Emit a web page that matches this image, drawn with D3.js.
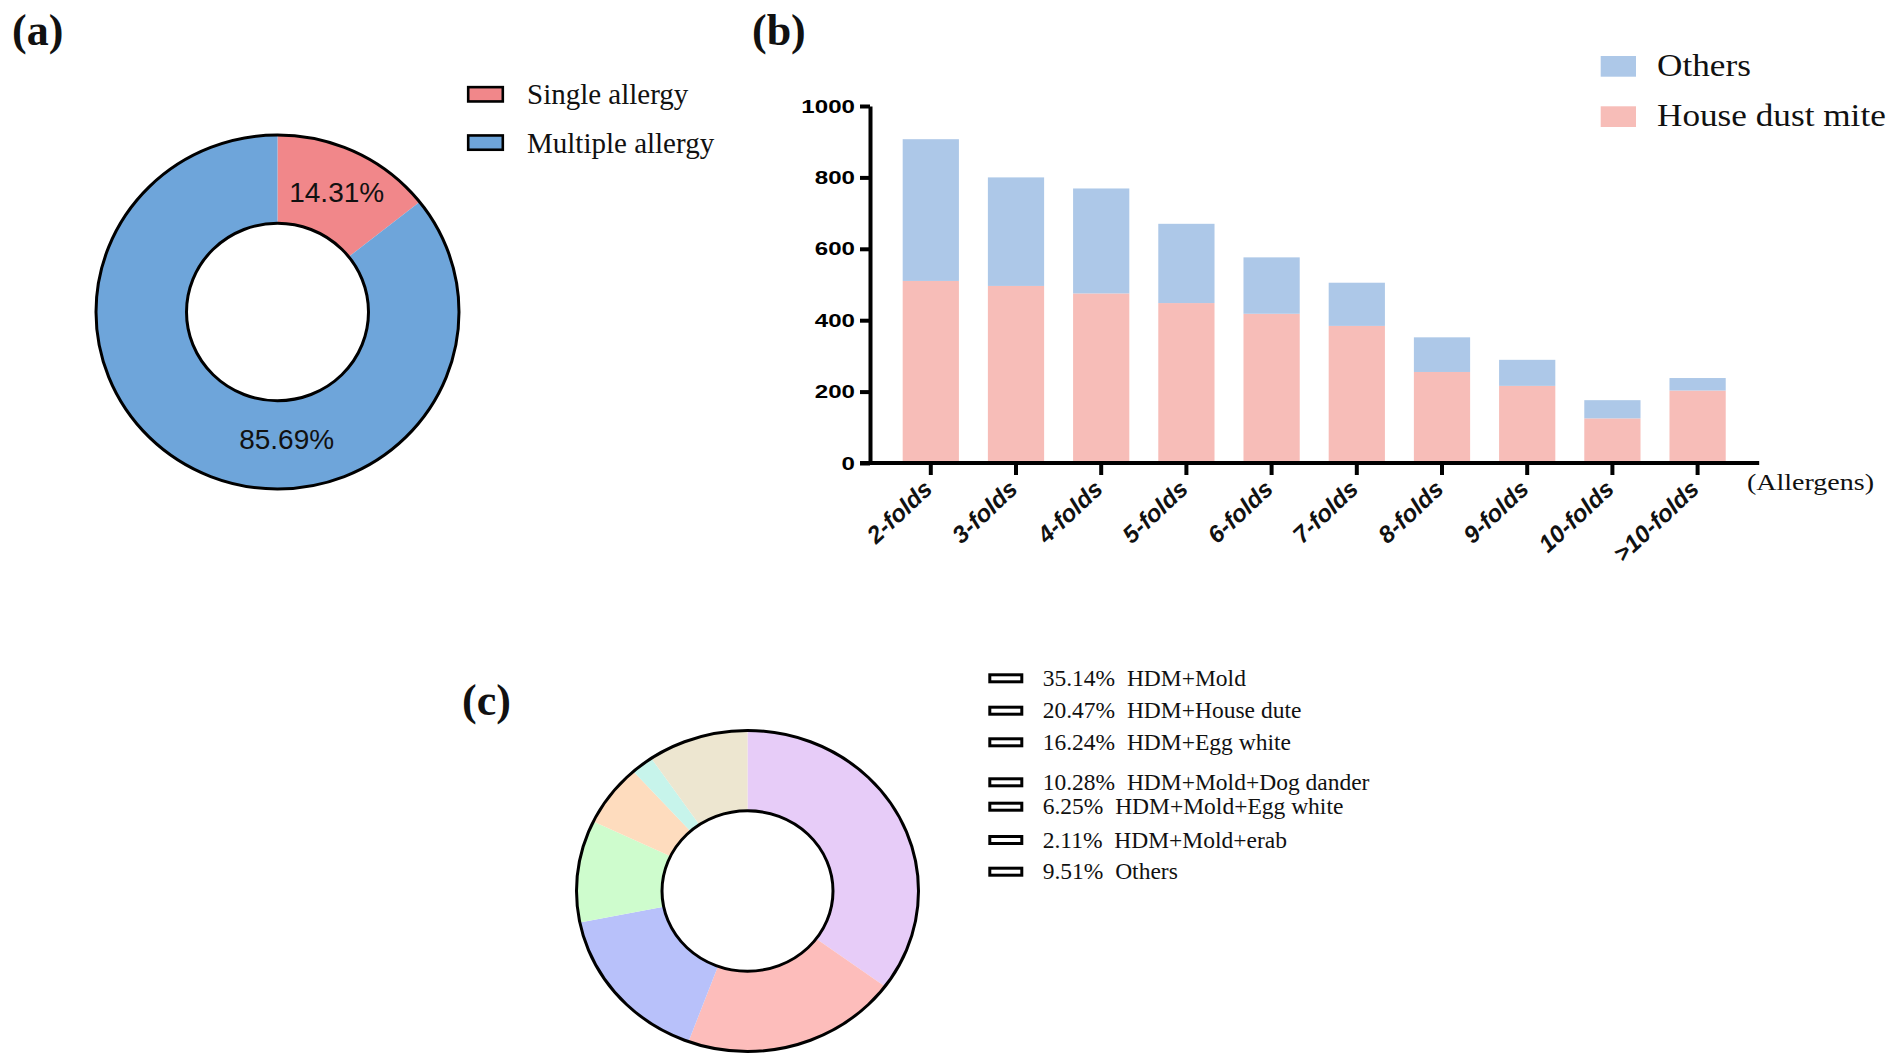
<!DOCTYPE html>
<html><head><meta charset="utf-8">
<script src="https://cdn.jsdelivr.net/npm/d3@7"></script>
<style>
body{margin:0;background:#fff}
svg{display:block}
text{white-space:pre}
</style>
</head><body>
<svg id="chart" width="1902" height="1061"></svg>
<script>
// ---------- DATA ----------
const allergyCategories = ["Single allergy", "Multiple allergy"];
const allergyPercents = [14.31, 85.69];

const foldCategories = ["2-folds","3-folds","4-folds","5-folds","6-folds","7-folds","8-folds","9-folds","10-folds",">10-folds"];
const hdmValues    = [510, 496, 475, 448, 418, 384, 255, 216, 125, 203];
const otherValues  = [397, 304, 294, 222, 158, 121,  97,  73,  51,  35];
const yTickValues  = [0, 200, 400, 600, 800, 1000];
const barSeriesNames = ["Others", "House dust mite"];

const comboCategories = ["HDM+Mold","HDM+House dute","HDM+Egg white","HDM+Mold+Dog dander","HDM+Mold+Egg white","HDM+Mold+erab","Others"];
const comboPercents   = [35.14, 20.47, 16.24, 10.28, 6.25, 2.11, 9.51];

// ---------- STYLE / LAYOUT ----------
const SERIF = "'Liberation Serif','Times New Roman',serif";
const SANS  = "'Liberation Sans',Arial,sans-serif";
const allergyColors = ["#F1878A", "#6EA5DA"];
const barColors = {others: "#ADC8E8", hdm: "#F7BDB8"};
const comboColors = ["#E7CCF8","#FDBDBB","#B8C1FA","#CEFCCD","#FEDCBE","#C7F4EB","#EDE6D0"];
const comboLegendRowY = [678.3, 710.7, 742.3, 782.3, 806.7, 840, 871.7];

const svg = d3.select("#chart");

// panel labels
[["(a)", 12, 45], ["(b)", 752, 45], ["(c)", 462, 715]].forEach(([t, x, y]) => {
  svg.append("text").attr("x", x).attr("y", y).text(t)
    .attr("font-family", SERIF).attr("font-weight", "bold").attr("font-size", 44).attr("fill", "#111");
});

// ---------- PANEL A ----------
(function(){
  const cx = 277.5, cy = 312, rO = 181.5, rI = 91, sy = 0.975;
  const pie = d3.pie().sort(null).value(d => d);
  const arcs = pie(allergyPercents);
  const arc = d3.arc().innerRadius(rI).outerRadius(rO);
  const g = svg.append("g").attr("transform", `translate(${cx},${cy})`);
  const gs = g.append("g").attr("transform", `scale(1,${sy})`);
  gs.selectAll("path").data(arcs).join("path")
    .attr("d", arc).attr("fill", (d, i) => allergyColors[i]);
  g.append("ellipse").attr("rx", rO).attr("ry", rO * sy).attr("fill", "none").attr("stroke", "#000").attr("stroke-width", 3);
  g.append("ellipse").attr("rx", rI).attr("ry", rI * sy).attr("fill", "#fff").attr("stroke", "#000").attr("stroke-width", 3);
  // labels
  const labelArc = d3.arc().innerRadius(d => d.r).outerRadius(d => d.r);
  const lbl = [
    arc.centroid(arcs[0]),
    labelArc.centroid({startAngle: Math.PI * 176 / 180, endAngle: Math.PI * 176 / 180, r: 131})
  ];
  lbl.forEach((p, i) => {
    g.append("text").attr("x", p[0]).attr("y", p[1] * sy).attr("dy", "0.36em")
      .attr("text-anchor", "middle").attr("font-family", SANS).attr("font-size", 28).attr("fill", "#111")
      .text(d3.format(".2f")(allergyPercents[i]) + "%");
  });
  // legend
  const lg = svg.append("g");
  allergyCategories.forEach((c, i) => {
    const yc = 94.3 + i * 48.3;
    lg.append("rect").attr("x", 468.2).attr("y", yc - 7.15).attr("width", 34.6).attr("height", 14.3)
      .attr("fill", allergyColors[i]).attr("stroke", "#000").attr("stroke-width", 2.6);
    lg.append("text").attr("x", 527).attr("y", yc + 10).text(c)
      .attr("font-family", SERIF).attr("font-size", 29).attr("fill", "#111");
  });
})();

// ---------- PANEL B ----------
(function(){
  const data = foldCategories.map((c, i) => ({cat: c, hdm: hdmValues[i], others: otherValues[i]}));
  const x = d3.scaleBand().domain(foldCategories).range([888.2, 1740.2]).paddingInner(0.34).paddingOuter(0.17);
  const y = d3.scaleLinear().domain([0, 1000]).range([463, 106]);
  const stack = d3.stack().keys(["hdm", "others"])(data);

  svg.append("g").selectAll("g").data(stack).join("g")
    .attr("fill", d => barColors[d.key])
    .selectAll("rect").data(d => d).join("rect")
    .attr("x", d => x(d.data.cat)).attr("width", x.bandwidth())
    .attr("y", d => y(d[1])).attr("height", d => y(d[0]) - y(d[1]));

  const axX = 870;
  // y axis
  const ya = svg.append("g").attr("transform", `translate(${axX},0)`)
    .call(d3.axisLeft(y).tickValues(yTickValues).tickFormat(d3.format("d")).tickSize(10).tickSizeOuter(0).tickPadding(5));
  ya.select(".domain").attr("stroke-width", 4).attr("stroke", "#000");
  ya.selectAll(".tick line").attr("stroke-width", 4).attr("stroke", "#000");
  ya.selectAll(".tick text").attr("font-family", SANS).attr("font-weight", "bold").attr("font-size", 19).attr("fill", "#000")
    .each(function(){ const w = this.getComputedTextLength(); d3.select(this).attr("textLength", w * 1.27).attr("lengthAdjust", "spacingAndGlyphs"); });
  ya.attr("font-family", null).attr("font-size", null);

  // x axis
  const xa = svg.append("g").attr("transform", `translate(0,${y(0)})`)
    .call(d3.axisBottom(x).tickSize(12).tickSizeOuter(0));
  xa.select(".domain").attr("d", `M${axX - 10},0H${x.range()[1] + 19}`).attr("stroke-width", 4).attr("stroke", "#000");
  xa.selectAll(".tick line").attr("stroke-width", 4).attr("stroke", "#000");
  xa.selectAll(".tick text")
    .attr("x", null).attr("y", null).attr("dy", null)
    .attr("transform", "translate(3,28) rotate(-43)")
    .attr("text-anchor", "end")
    .attr("font-family", SANS).attr("font-weight", "bold").attr("font-style", "italic").attr("font-size", 24).attr("fill", "#111");
  xa.attr("font-family", null).attr("font-size", null);

  const al = svg.append("text").attr("x", 1747).attr("y", 490).text("(Allergens)")
    .attr("font-family", SERIF).attr("font-size", 24).attr("fill", "#111");
  al.attr("textLength", 127).attr("lengthAdjust", "spacingAndGlyphs");

  // legend
  const legendColors = [barColors.others, barColors.hdm];
  barSeriesNames.forEach((n, i) => {
    const top = 56 + i * 50.3;
    svg.append("rect").attr("x", 1600.7).attr("y", top).attr("width", 35.3).attr("height", 20.7).attr("fill", legendColors[i]);
    const t = svg.append("text").attr("x", 1657).attr("y", top + 19.7).text(n)
      .attr("font-family", SERIF).attr("font-size", 32).attr("fill", "#111");
    const w = t.node().getComputedTextLength();
    t.attr("textLength", w * 1.1).attr("lengthAdjust", "spacingAndGlyphs");
  });
})();

// ---------- PANEL C ----------
(function(){
  const cx = 747.5, cy = 891, rO = 171, rI = 85.5, sy = 160.5 / 171;
  const pie = d3.pie().sort(null).value(d => d);
  const arcs = pie(comboPercents);
  const arc = d3.arc().innerRadius(rI).outerRadius(rO);
  const g = svg.append("g").attr("transform", `translate(${cx},${cy})`);
  g.append("g").attr("transform", `scale(1,${sy})`)
    .selectAll("path").data(arcs).join("path")
    .attr("d", arc).attr("fill", (d, i) => comboColors[i]);
  g.append("ellipse").attr("rx", rO).attr("ry", rO * sy).attr("fill", "none").attr("stroke", "#000").attr("stroke-width", 3);
  g.append("ellipse").attr("rx", rI).attr("ry", rI * sy).attr("fill", "#fff").attr("stroke", "#000").attr("stroke-width", 3);

  const fmt = d3.format(".2f");
  comboCategories.forEach((c, i) => {
    const yc = comboLegendRowY[i];
    svg.append("rect").attr("x", 989.8).attr("y", yc - 3.5).attr("width", 32).attr("height", 7)
      .attr("fill", "#fff").attr("stroke", "#000").attr("stroke-width", 3);
    svg.append("text").attr("x", 1042.7).attr("y", yc + 7.5)
      .text(fmt(comboPercents[i]) + "%  " + c)
      .attr("font-family", SERIF).attr("font-size", 23.5).attr("fill", "#111");
  });
})();
</script>
</body></html>
